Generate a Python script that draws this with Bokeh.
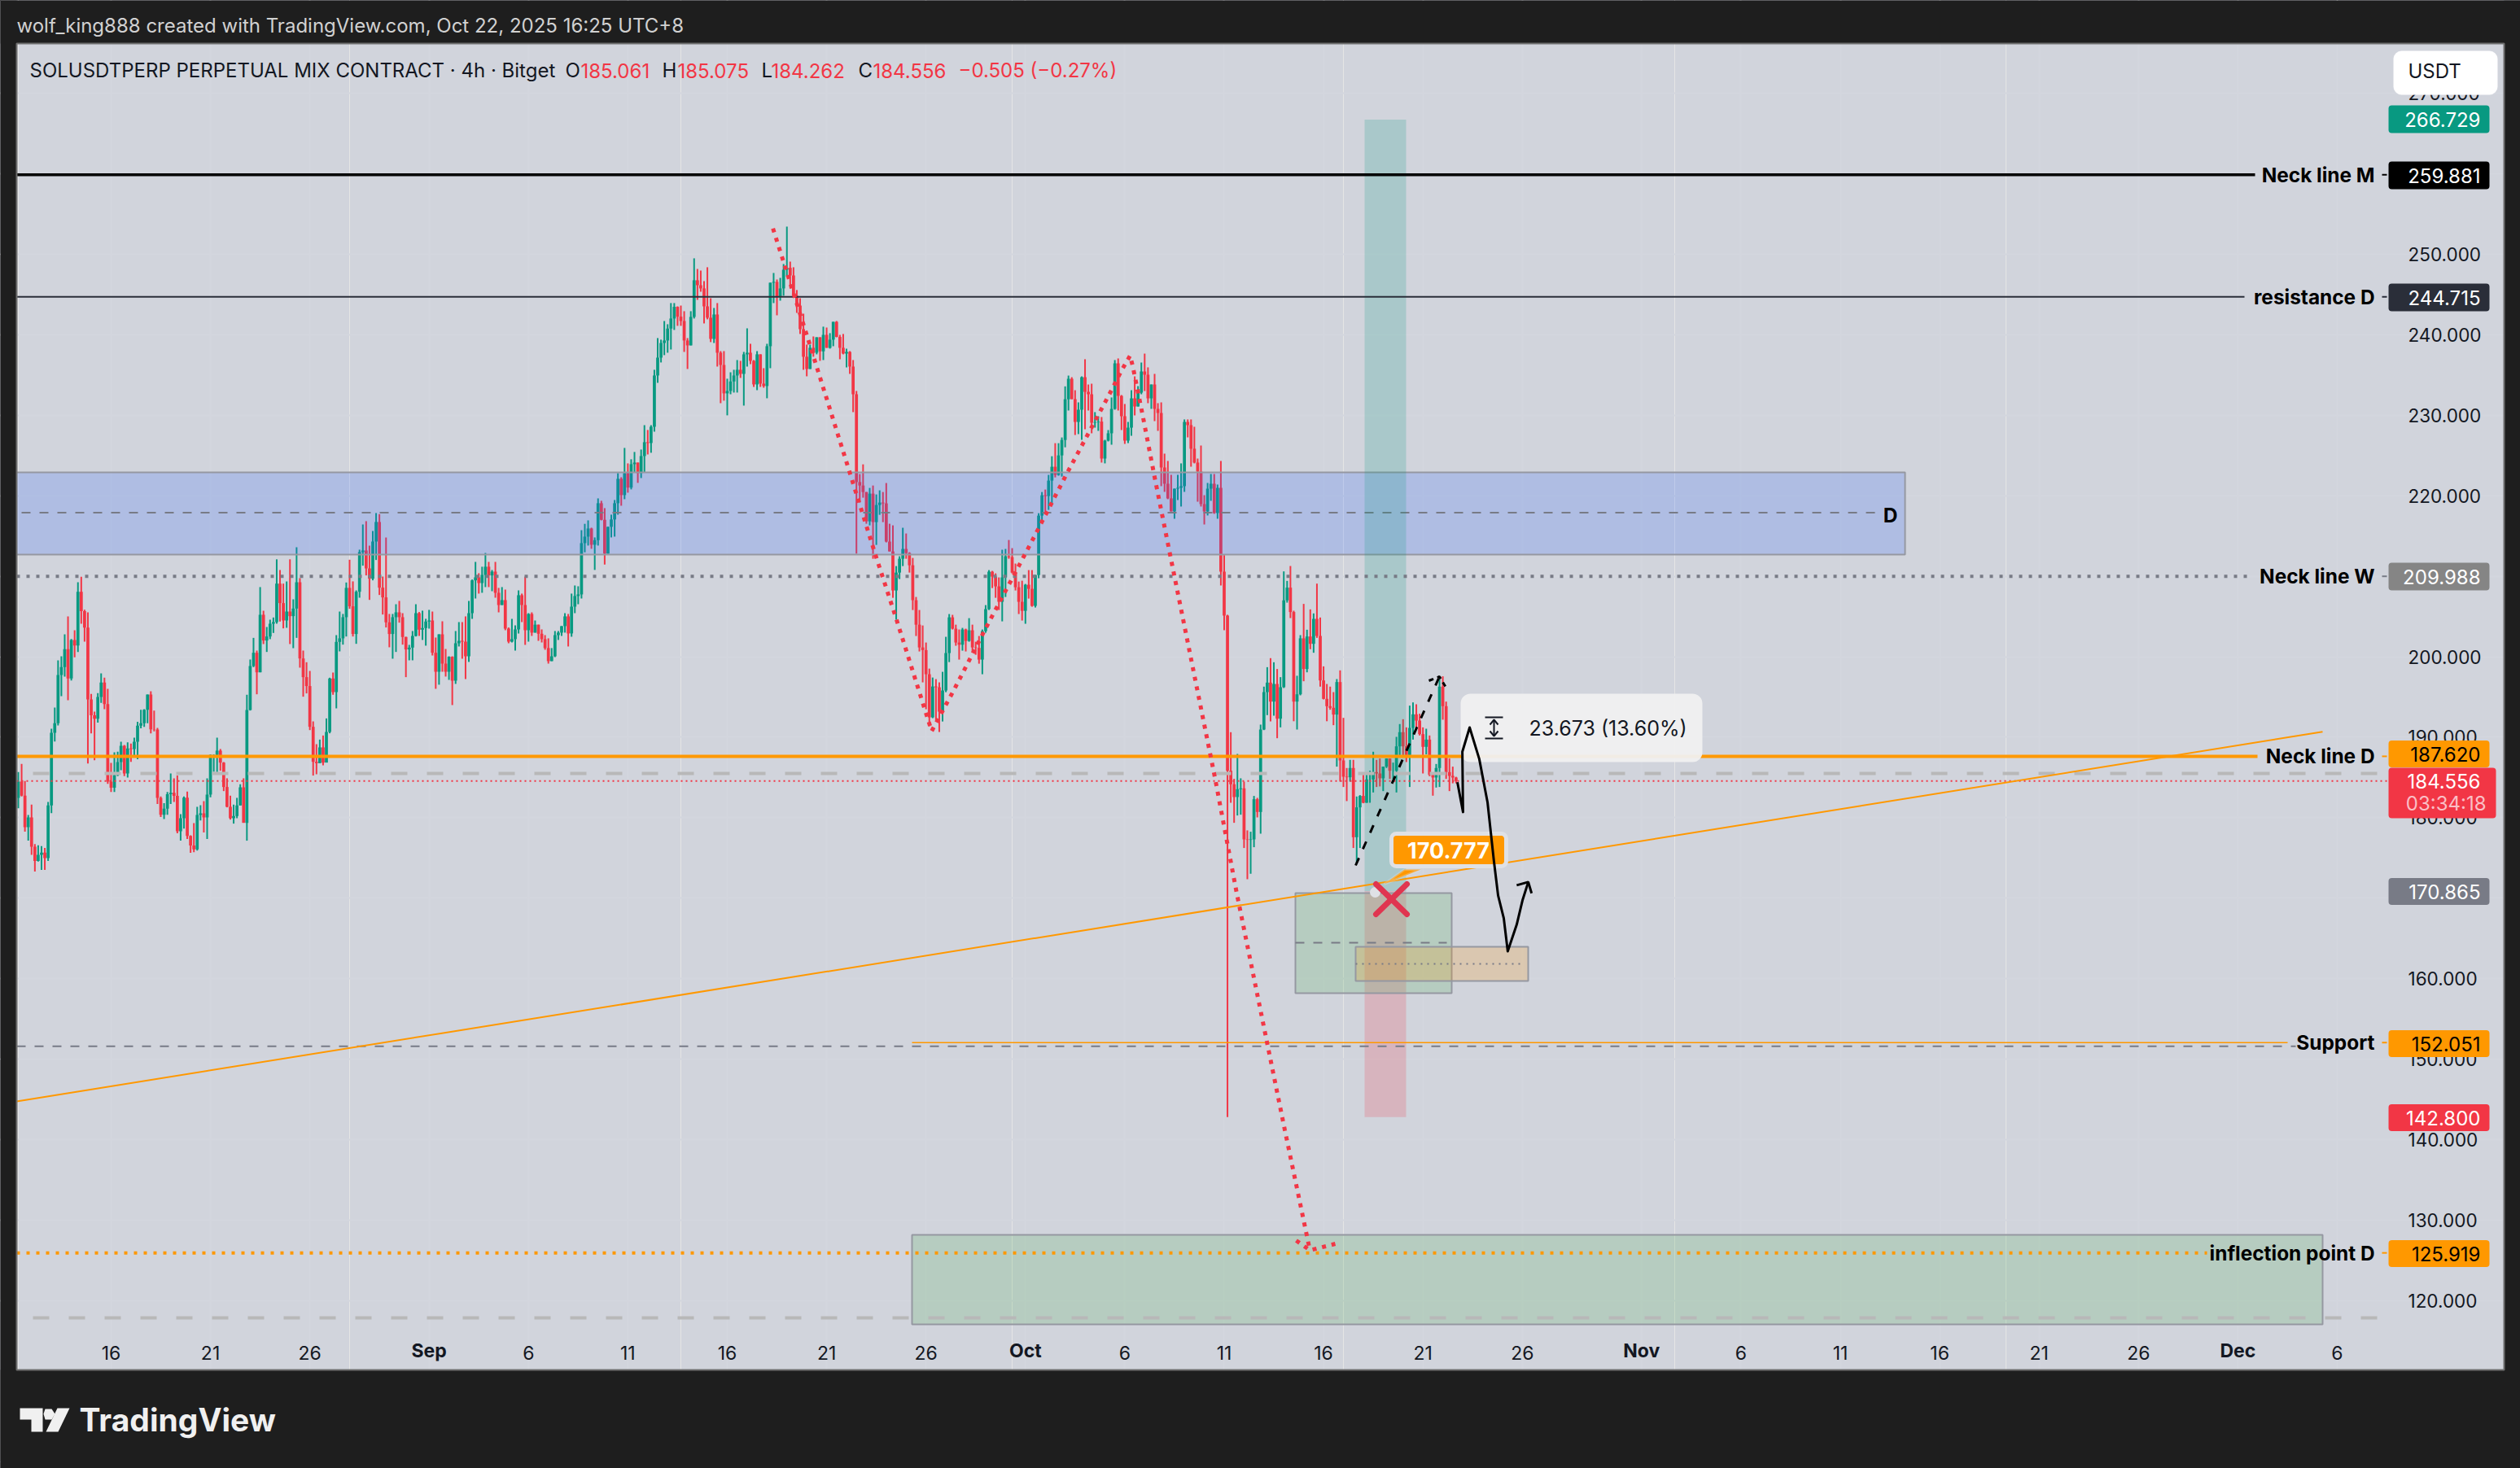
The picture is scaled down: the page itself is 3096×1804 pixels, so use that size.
from bokeh.embed import file_html
from bokeh.models import (BoxAnnotation, FixedTicker, GlobalInlineStyleSheet, Grid, Label, LinearAxis,
                          NumeralTickFormatter, PolyAnnotation, Range1d)
from bokeh.plotting import figure
from bokeh.resources import INLINE

# 4h candles, one value per bar
first_open = 182.46
closes = [
    184.48, 182.73, 178.82, 180.03, 176.39, 174.61, 175.38, 175.65, 174.98, 181.52, 190.55, 191.73, 197.73, 198.70, 200.93, 197.29,
    202.07, 201.40, 208.07, 205.65, 203.62, 194.69, 192.71, 192.30, 195.00, 196.78, 194.12, 184.48, 183.71, 185.29, 186.91, 188.93,
    185.49, 188.59, 188.53, 189.44, 191.43, 191.73, 193.41, 195.30, 190.98, 190.95, 182.46, 180.37, 181.11, 182.90, 183.10, 182.70,
    178.32, 179.93, 182.49, 177.74, 176.53, 176.06, 180.34, 180.54, 180.03, 182.87, 187.79, 187.79, 188.33, 186.84, 183.81, 181.35,
    179.93, 180.20, 181.52, 183.77, 179.36, 193.38, 198.84, 200.49, 198.06, 205.21, 202.01, 202.51, 204.10, 204.30, 209.08, 206.66,
    204.50, 205.61, 205.04, 205.98, 209.25, 199.78, 197.46, 196.35, 191.29, 186.94, 186.77, 188.73, 186.84, 190.65, 197.29, 195.60,
    201.84, 202.28, 204.91, 208.55, 206.26, 202.82, 208.07, 213.00, 213.20, 210.97, 209.69, 214.31, 216.74, 208.58, 207.37, 204.27,
    202.82, 204.91, 205.51, 204.91, 202.45, 200.90, 201.13, 202.58, 205.41, 203.36, 203.56, 204.37, 204.50, 200.49, 198.13, 202.78,
    199.14, 198.13, 199.99, 197.02, 201.67, 201.97, 201.87, 200.05, 205.41, 209.49, 209.86, 209.15, 210.16, 211.18, 210.10, 210.57,
    207.94, 206.42, 207.03, 203.49, 201.87, 202.18, 203.39, 207.64, 206.42, 203.29, 205.31, 202.99, 203.98, 202.85, 202.18, 201.07,
    199.45, 200.05, 202.68, 202.99, 203.80, 205.01, 202.89, 206.22, 207.54, 207.74, 214.11, 214.92, 215.93, 213.91, 214.48, 219.07,
    217.01, 212.80, 216.14, 217.05, 219.07, 222.10, 220.08, 222.81, 221.01, 223.92, 224.12, 222.81, 224.93, 226.65, 226.55, 228.57,
    234.94, 237.16, 238.98, 239.29, 240.77, 242.02, 243.47, 242.25, 241.71, 239.29, 238.68, 242.22, 246.77, 246.16, 245.76, 243.53,
    242.12, 239.49, 242.52, 237.77, 236.25, 232.72, 233.02, 234.20, 234.94, 235.65, 235.14, 237.57, 237.77, 236.76, 233.83, 237.57,
    233.93, 233.63, 238.58, 246.47, 246.57, 244.75, 245.76, 248.08, 248.32, 247.37, 244.85, 243.63, 240.70, 237.27, 235.75, 238.38,
    237.77, 239.69, 237.94, 239.99, 238.38, 239.39, 241.61, 239.73, 238.38, 237.67, 237.87, 236.05, 232.61, 221.70, 221.27, 220.46,
    216.82, 220.26, 216.72, 218.85, 219.15, 219.05, 214.30, 213.08, 208.23, 210.45, 212.17, 213.39, 212.88, 211.36, 207.02, 203.98,
    201.15, 200.82, 197.82, 192.46, 196.30, 196.20, 193.17, 195.80, 200.45, 204.89, 203.48, 201.76, 201.49, 203.38, 201.96, 203.28,
    201.15, 201.09, 199.64, 203.18, 205.91, 210.56, 209.95, 208.74, 206.82, 209.85, 212.48, 212.38, 210.45, 208.63, 206.82, 205.70,
    208.94, 208.43, 206.31, 210.15, 217.53, 220.06, 219.96, 221.88, 223.60, 222.59, 225.01, 226.93, 231.99, 234.53, 232.00, 229.17,
    230.69, 234.73, 232.91, 232.61, 229.07, 229.14, 229.21, 224.62, 226.85, 227.76, 230.79, 236.45, 232.41, 229.88, 226.85, 228.46,
    232.10, 231.09, 232.81, 235.44, 235.04, 232.10, 233.82, 230.79, 230.28, 223.51, 221.49, 219.67, 218.05, 220.88, 220.98, 221.19,
    229.17, 228.77, 225.84, 224.12, 223.01, 218.96, 218.05, 220.88, 221.49, 217.85, 220.98, 210.57, 205.11, 185.83, 184.15, 182.56,
    183.54, 183.64, 177.30, 177.24, 177.30, 182.29, 180.71, 190.95, 195.60, 196.78, 194.42, 196.61, 192.30, 196.21, 207.00, 208.58,
    205.55, 194.42, 195.33, 202.28, 198.47, 202.51, 201.60, 204.70, 202.58, 197.05, 194.76, 193.85, 193.65, 192.81, 196.85, 187.11,
    185.09, 185.02, 186.17, 177.57, 181.28, 182.70, 181.85, 184.75, 184.75, 185.66, 185.49, 184.89, 186.34, 187.35, 185.83, 185.83,
    188.86, 190.62, 188.86, 187.78, 191.15, 192.84, 192.06, 190.38, 188.80, 189.70, 185.32, 184.99, 186.17, 196.28, 193.85, 185.66,
    185.19, 184.99, 184.556,
]
highs = [
    185.66, 186.67, 184.55, 180.34, 181.62, 176.73, 176.56, 176.46, 176.23, 181.96, 191.05, 193.68, 199.55, 200.05, 202.78, 205.01,
    202.21, 203.29, 209.25, 209.93, 205.85, 205.51, 195.37, 193.18, 195.47, 197.93, 197.39, 196.01, 186.81, 188.12, 188.19, 189.44,
    189.03, 189.37, 189.20, 189.94, 191.90, 193.41, 193.48, 195.30, 195.70, 193.31, 191.16, 182.63, 181.79, 183.20, 185.49, 184.89,
    185.25, 180.44, 182.63, 183.24, 177.81, 179.33, 181.35, 181.55, 182.06, 184.89, 187.85, 187.85, 189.94, 188.53, 186.91, 184.89,
    182.73, 181.62, 182.46, 184.15, 184.89, 195.27, 199.65, 202.34, 200.76, 208.65, 205.71, 203.69, 204.60, 204.87, 212.10, 210.77,
    209.08, 209.35, 212.10, 207.13, 213.60, 209.76, 200.76, 199.31, 198.23, 191.96, 189.13, 189.70, 190.21, 192.33, 197.39, 198.03,
    202.68, 205.61, 205.31, 209.22, 212.05, 209.36, 208.24, 213.30, 216.43, 216.84, 213.80, 215.62, 217.85, 217.71, 209.96, 214.81,
    205.31, 205.31, 206.52, 206.93, 205.41, 202.48, 201.47, 203.19, 206.52, 205.55, 205.72, 204.71, 205.82, 205.61, 202.38, 202.78,
    204.40, 200.96, 200.05, 200.05, 203.19, 204.30, 204.30, 205.01, 206.93, 209.59, 211.78, 210.37, 211.18, 212.89, 211.78, 210.77,
    211.78, 208.55, 208.65, 208.34, 203.63, 204.70, 203.90, 208.24, 207.84, 209.96, 205.41, 205.51, 204.50, 203.98, 203.39, 202.68,
    202.28, 201.07, 203.19, 203.19, 203.80, 205.41, 205.31, 207.84, 208.85, 208.75, 215.72, 216.51, 216.94, 216.03, 214.82, 219.67,
    219.37, 218.46, 216.14, 217.65, 219.47, 222.81, 222.30, 225.94, 224.02, 224.53, 225.44, 224.12, 225.74, 228.77, 228.17, 228.77,
    235.65, 239.59, 239.39, 241.71, 241.31, 243.94, 243.94, 243.53, 243.63, 242.93, 239.59, 242.93, 249.50, 248.18, 247.98, 246.67,
    248.39, 244.54, 243.33, 243.94, 237.97, 237.97, 234.54, 235.34, 235.65, 236.86, 236.76, 237.87, 240.80, 238.88, 236.86, 237.97,
    237.57, 235.85, 238.88, 246.47, 247.68, 246.87, 247.07, 248.79, 253.44, 249.09, 248.39, 245.56, 244.54, 242.62, 238.78, 238.78,
    239.79, 239.69, 239.69, 241.01, 240.90, 240.20, 241.61, 241.71, 239.99, 240.10, 238.28, 237.97, 236.86, 233.02, 222.69, 223.90,
    220.46, 220.97, 221.27, 220.16, 220.67, 220.46, 221.58, 216.52, 216.32, 211.26, 212.48, 216.02, 215.31, 212.98, 212.27, 207.42,
    205.80, 203.88, 201.76, 198.52, 197.41, 197.21, 196.81, 198.12, 202.47, 205.30, 205.20, 203.98, 203.38, 203.58, 203.48, 204.79,
    203.98, 201.86, 202.57, 203.38, 206.41, 210.76, 210.66, 210.35, 209.85, 213.29, 213.39, 214.50, 213.49, 211.57, 209.34, 209.44,
    209.04, 210.76, 210.76, 210.15, 217.83, 220.46, 220.77, 222.59, 224.91, 226.53, 226.53, 227.24, 233.59, 234.93, 234.73, 233.11,
    231.60, 234.83, 236.96, 233.82, 233.92, 230.39, 229.88, 229.78, 226.95, 228.16, 232.21, 236.86, 237.06, 232.51, 231.40, 229.17,
    233.11, 234.83, 233.62, 236.55, 237.66, 235.95, 233.82, 235.14, 231.50, 231.60, 225.23, 224.32, 222.60, 220.88, 222.60, 224.02,
    229.48, 229.48, 229.48, 228.57, 224.62, 226.24, 220.07, 221.59, 222.70, 222.70, 221.39, 224.32, 212.62, 205.20, 190.62, 184.82,
    187.92, 184.89, 184.48, 178.42, 178.25, 182.70, 182.46, 191.56, 196.28, 198.70, 199.82, 199.31, 198.47, 197.46, 210.60, 209.42,
    211.27, 205.71, 197.63, 202.68, 206.56, 203.35, 205.88, 205.38, 209.08, 204.87, 198.80, 196.61, 196.28, 195.60, 197.22, 198.30,
    192.40, 186.17, 187.18, 187.18, 182.63, 182.80, 185.32, 185.32, 185.83, 188.19, 187.18, 187.35, 186.34, 187.35, 187.35, 186.84,
    190.04, 191.63, 192.23, 191.22, 193.92, 194.32, 194.09, 192.91, 191.22, 191.05, 190.21, 185.32, 186.67, 197.22, 197.56, 194.42,
    187.35, 186.34, 185.075,
]
lows = [
    181.18, 182.63, 178.25, 177.14, 175.38, 173.30, 174.54, 173.50, 173.50, 174.61, 180.57, 189.47, 191.46, 195.10, 197.52, 194.59,
    197.05, 199.92, 200.59, 204.10, 201.87, 186.74, 190.48, 187.14, 191.80, 194.26, 193.48, 184.21, 183.20, 183.20, 185.16, 185.90,
    185.16, 184.99, 186.94, 187.68, 187.25, 191.09, 191.29, 191.73, 190.48, 190.72, 181.69, 180.07, 179.83, 180.37, 181.69, 181.96,
    178.05, 177.14, 178.65, 177.34, 175.62, 175.72, 175.92, 179.66, 178.15, 177.34, 182.53, 185.70, 185.66, 185.83, 183.30, 181.28,
    179.76, 179.26, 179.93, 181.52, 179.36, 177.14, 193.31, 198.70, 195.33, 198.06, 201.57, 200.59, 202.18, 202.95, 204.10, 204.37,
    203.52, 203.59, 201.57, 201.06, 202.34, 198.64, 195.03, 195.44, 190.88, 185.23, 185.39, 186.81, 186.50, 187.04, 190.48, 195.27,
    193.58, 200.66, 201.50, 202.51, 205.95, 202.51, 201.60, 207.33, 211.31, 210.10, 207.06, 209.49, 212.02, 207.67, 205.24, 203.63,
    201.17, 199.75, 200.59, 204.23, 201.50, 197.46, 199.55, 199.55, 202.51, 202.58, 202.08, 201.37, 203.49, 200.15, 196.01, 196.52,
    198.13, 197.53, 197.12, 193.99, 196.62, 201.27, 199.75, 197.22, 199.35, 204.70, 207.23, 207.84, 207.94, 208.65, 208.65, 208.14,
    207.33, 205.51, 206.42, 203.29, 201.67, 201.77, 200.76, 202.88, 204.30, 201.47, 201.87, 202.58, 202.99, 201.97, 201.77, 200.86,
    199.14, 199.45, 199.95, 202.08, 202.58, 202.99, 201.27, 202.48, 205.41, 206.52, 207.23, 212.97, 213.81, 213.41, 210.78, 213.81,
    216.94, 211.45, 212.80, 214.82, 214.92, 217.65, 218.76, 219.57, 220.38, 220.79, 222.91, 221.60, 222.20, 222.91, 225.13, 225.34,
    227.96, 234.03, 236.56, 237.47, 237.77, 238.17, 240.60, 241.11, 241.11, 237.87, 235.75, 238.68, 242.02, 244.34, 245.35, 241.41,
    241.92, 239.09, 238.98, 236.05, 231.50, 231.81, 229.99, 232.61, 232.82, 232.82, 234.64, 231.20, 236.05, 236.35, 233.52, 233.12,
    233.52, 233.42, 232.11, 235.85, 243.94, 242.42, 244.24, 244.85, 247.27, 245.76, 244.85, 242.72, 240.10, 235.65, 234.84, 235.75,
    237.27, 237.57, 236.76, 236.86, 238.38, 238.28, 238.58, 239.69, 236.96, 237.57, 235.95, 235.14, 230.39, 212.80, 219.15, 219.76,
    216.52, 216.32, 212.17, 213.89, 217.63, 216.72, 214.20, 213.08, 207.32, 204.59, 209.65, 211.26, 212.17, 210.45, 205.80, 202.57,
    200.65, 196.81, 193.47, 191.35, 192.36, 192.05, 190.64, 191.95, 195.59, 199.33, 203.38, 201.36, 199.64, 200.75, 200.65, 201.86,
    200.55, 200.24, 199.13, 197.82, 202.97, 205.80, 208.53, 207.32, 205.80, 204.39, 207.42, 212.17, 210.35, 208.23, 205.30, 204.49,
    204.09, 207.22, 206.21, 206.11, 209.75, 216.92, 217.83, 218.24, 218.85, 222.28, 222.49, 222.38, 226.02, 230.59, 232.00, 227.55,
    227.66, 226.95, 228.26, 230.59, 227.76, 228.46, 228.06, 224.12, 224.02, 226.75, 226.34, 230.69, 230.59, 228.16, 226.44, 226.54,
    227.45, 229.98, 231.09, 232.61, 233.01, 231.50, 230.79, 229.27, 228.06, 221.19, 220.48, 219.57, 218.05, 217.14, 219.47, 218.66,
    220.48, 227.25, 223.61, 224.02, 219.26, 218.66, 216.43, 217.55, 219.37, 217.75, 217.14, 208.85, 203.29, 142.80, 181.85, 179.36,
    180.27, 180.37, 176.23, 172.35, 173.03, 176.33, 180.03, 178.01, 190.88, 192.74, 191.96, 192.67, 189.87, 191.22, 196.11, 206.72,
    204.80, 191.98, 190.95, 195.20, 196.95, 198.06, 200.93, 200.49, 202.34, 196.28, 194.69, 191.98, 193.41, 191.49, 186.34, 184.48,
    183.81, 182.06, 184.48, 176.23, 174.37, 176.23, 181.79, 181.85, 181.85, 183.13, 183.81, 183.88, 183.30, 186.17, 184.82, 184.82,
    183.13, 187.68, 187.68, 186.91, 183.81, 189.70, 190.88, 190.21, 185.49, 187.86, 185.15, 182.73, 183.74, 183.81, 192.17, 184.82,
    183.30, 184.27, 184.262,
]
opens = [first_open] + closes[:-1]

# price scale and time scale
price_ticks = [120, 130, 140, 150, 160, 170, 180, 190, 200, 210, 220, 230, 240, 250, 260, 270]
day_labels = ["16", "21", "26", "6", "11", "16", "21", "26", "6", "11", "16", "21", "26", "6", "11", "16", "21", "26", "6"]
day_offsets = [0, 5, 10, 21, 26, 31, 36, 41, 51, 56, 61, 66, 71, 82, 87, 92, 97, 102, 112]
month_labels = ["Sep", "Oct", "Nov", "Dec"]
month_offsets = [16, 46, 77, 107]

# labelled horizontal levels
level_prices = [259.881, 244.715, 209.988, 187.620, 125.919]
level_colors = ["#000000", "#2a2e39", "#787b86", "#ff9800", "#ff9800"]
level_widths = [3.5, 2, 4, 4, 4]
level_dashes = ["solid", "solid", "4 8", "solid", "4 8"]
level_ends = [2770, 2757, 2760, 2773, 2711]
level_names = ["Neck line M", "resistance D", "Neck line W", "Neck line D", "inflection point D"]

# price tags on the right hand scale
tag_texts = ["266.729", "259.881", "244.715", "209.988", "187.620", "170.865", "152.051", "142.800", "125.919"]
tag_centers = [146, 215, 365, 708, 926, 1095, 1282, 1373, 1540]
tag_fills = ["#089981", "#000000", "#2a2e39", "#858585", "#ff9800", "#787b86", "#ff9800", "#f23645", "#ff9800"]
tag_inks = ["#ffffff", "#ffffff", "#ffffff", "#ffffff", "#000000", "#ffffff", "#000000", "#ffffff", "#000000"]
tag_heights = [34, 34, 34, 34, 33, 33, 33, 33, 33]

# hand drawn paths, bar number and price
zigzag_bars = [227.8, 237.6, 249.9, 258.7, 265.1, 275.7, 282.6, 292.1, 305.9, 316.7, 329.2, 333.2, 335.6,
               336.4, 339.3, 343.2, 348.4, 361.2, 367.8, 382.3, 389.9]
zigzag_prices = [253.2, 240.5, 224.3, 212.7, 204.6, 190.75, 196.0, 203.6, 214.3, 222.9, 232.5, 235.7, 237.4,
                 236.1, 230.2, 221.9, 211.2, 185.0, 170.6, 141.2, 126.2]
brush_bars = [434.4, 436.1, 435.9, 438.1, 441.0, 443.5, 445.4, 446.7, 448.4, 449.6, 452.3, 454.1, 455.8]
brush_prices = [184.4, 180.7, 188.2, 191.2, 187.3, 181.9, 174.7, 170.3, 167.5, 163.4, 166.7, 169.8, 172.0]
brush_head_bars = [452.3, 455.8, 456.8]
brush_head_prices = [171.6, 172.0, 170.6]

BG = "#1e1e1e"
PANE = "#d1d4dc"
GRID = "#d3d6de"
UP = "#089981"
DOWN = "#f23645"
ORANGE = "#ff9800"
GRAY = "#787b86"
BORDER = "#9598a1"
INK = "#131722"
FONT = "Inter"
LEFT, RIGHT, TOP, BOTTOM = 20, 3076, 53, 1683


def px(x):
    # window pixel to bar number, for drawings that sit on the canvas
    return (x - 22) / 4.07


def py(y):
    # window pixel to price
    return 200 - (y - 806.5) / 9.89


# the frame fills the whole window, the dark surround is painted on top of the chart further down
p = figure(x_range=Range1d(px(0), px(3096)), y_range=Range1d(py(1804), py(0)),
           width=3096, height=1804, frame_width=3096, frame_height=1804, min_border=0,
           x_axis_location=None, y_axis_location=None,
           toolbar_location=None, output_backend="svg",
           background_fill_color=PANE, border_fill_color=BG, outline_line_color=None)
p.stylesheets = [GlobalInlineStyleSheet(css="html, body { background: #1e1e1e; overflow: hidden; }")]

day_ticks = [28 + 6 * d for d in day_offsets]
month_ticks = [28 + 6 * d for d in month_offsets]

price_axis = LinearAxis(ticker=FixedTicker(ticks=price_ticks), formatter=NumeralTickFormatter(format="0.000"),
                        major_label_standoff=-144, major_label_text_font=FONT, major_label_text_font_size="22.5px",
                        major_label_text_color=INK, axis_line_color=None,
                        major_tick_line_color=None, minor_tick_line_color=None)
p.add_layout(price_axis, "right")

day_axis = LinearAxis(ticker=FixedTicker(ticks=day_ticks),
                      major_label_overrides=dict(zip(day_ticks, day_labels)),
                      major_label_standoff=-157, major_label_text_font=FONT, major_label_text_font_size="23px",
                      major_label_text_color=INK, axis_line_color=None,
                      major_tick_line_color=None, minor_tick_line_color=None)
p.add_layout(day_axis, "below")

# the bold month names need an axis of their own, pulled down from the top edge
month_axis = LinearAxis(ticker=FixedTicker(ticks=month_ticks),
                        major_label_overrides=dict(zip(month_ticks, month_labels)),
                        major_label_standoff=-1679, major_label_text_font=FONT, major_label_text_font_size="23px",
                        major_label_text_font_style="bold",
                        major_label_text_color=INK, axis_line_color=None,
                        major_tick_line_color=None, minor_tick_line_color=None)
p.add_layout(month_axis, "above")

p.add_layout(Grid(dimension=0, ticker=FixedTicker(ticks=day_ticks + month_ticks), grid_line_color=GRID, grid_line_width=2))
p.add_layout(Grid(dimension=1, ticker=FixedTicker(ticks=price_ticks), grid_line_color=GRID, grid_line_width=2))

# candles
bars = list(range(len(closes)))
colors = [UP if c >= o else DOWN for o, c in zip(opens, closes)]
p.segment(bars, highs, bars, lows, line_color=colors, line_width=2)
p.vbar(bars, 0.92, opens, closes, fill_color=colors, line_color=None)

# blue D zone
p.quad(left=px(10), right=px(2340), top=222.9, bottom=212.7, fill_color="#2962ff", fill_alpha=0.2,
       line_color=BORDER, line_width=2)
p.line([px(26), px(2304)], [217.9, 217.9], line_color=GRAY, line_width=2, line_dash="11 11")

# long position tool
p.quad(left=px(1676), right=px(1727), top=266.729, bottom=170.865, fill_color=UP, fill_alpha=0.2, line_color=None)
p.quad(left=px(1676), right=px(1727), top=170.865, bottom=142.8, fill_color=DOWN, fill_alpha=0.2, line_color=None)

# green boxes and the small orange one
p.quad(left=px(1591), right=px(1783), top=170.63, bottom=158.19, fill_color="#4caf50", fill_alpha=0.2,
       line_color=BORDER, line_width=2)
p.line([px(1591), px(1777)], [164.46, 164.46], line_color=GRAY, line_width=2, line_dash="11 11")
p.quad(left=px(1665), right=px(1877), top=163.95, bottom=159.7, fill_color=ORANGE, fill_alpha=0.2,
       line_color=BORDER, line_width=2)
p.line([px(1665), px(1872)], [161.83, 161.83], line_color=GRAY, line_width=2, line_dash="2 6")
p.quad(left=px(1120), right=px(2853), top=128.16, bottom=117.04, fill_color="#4caf50", fill_alpha=0.2,
       line_color=BORDER, line_width=2)

# plain levels
for price, color, width, dash, end in zip(level_prices, level_colors, level_widths, level_dashes, level_ends):
    p.line([px(LEFT), px(end)], [price, price], line_color=color, line_width=width, line_dash=dash)

p.line([px(1120), px(2810)], [152.051, 152.051], line_color=ORANGE, line_width=1.5)
p.line([px(LEFT), px(2820)], [151.6, 151.6], line_color=GRAY, line_width=2, line_dash="11 11")
p.line([px(40), px(2920)], [185.5, 185.5], line_color="#b8b8b8", line_width=4, line_dash="20 24")
p.line([px(40), px(2920)], [117.85, 117.85], line_color="#b8b8b8", line_width=4, line_dash="20 24")
p.line([px(LEFT), px(2934)], [184.556, 184.556], line_color=DOWN, line_width=2, line_dash="2 4")

# rising orange trend line
p.line([px(LEFT), px(2853)], [144.74, 190.67], line_color=ORANGE, line_width=2)

# stubs between the level names and the tags
for price, color in zip(level_prices + [152.051], level_colors + [ORANGE]):
    p.line([px(2926), px(2932)], [price, price], line_color=color, line_width=2)

# dotted red path with its head
p.line(zigzag_bars, zigzag_prices, line_color=DOWN, line_width=5, line_dash="5 7")
p.line([px(1592), px(1609), px(1640)], [py(1524), py(1536), py(1528)], line_color=DOWN, line_width=5, line_dash="5 7")

# dashed black arrow
p.line([px(1665), px(1767)], [py(1063), py(833)], line_color="#000000", line_width=3, line_dash="10 12")
p.line([px(1755), px(1768), px(1777)], [py(836), py(831), py(846)], line_color="#000000", line_width=3, line_dash="6 5")

# dark surround of the pane, painted over whatever runs past its edges
p.quad(left=[px(0), px(0), px(0), px(RIGHT)], right=[px(LEFT), px(3096), px(3096), px(3096)],
       top=[py(0), py(0), py(BOTTOM), py(0)], bottom=[py(1804), py(TOP), py(1804), py(1804)],
       fill_color=BG, line_color=None)
p.quad(left=px(LEFT), right=px(RIGHT), top=py(TOP), bottom=py(BOTTOM), fill_color=None, line_color="#6e6e6e", line_width=2)

# measure box
p.add_layout(BoxAnnotation(left=px(1794), right=px(2091), top=py(852), bottom=py(936), fill_color="#f0f0f0",
                           fill_alpha=0.95, line_color=None, border_radius=12))
p.segment([px(1824), px(1824), px(1835)], [py(881), py(907), py(884)], [px(1846), px(1846), px(1835)],
          [py(881), py(907), py(904)], line_color=INK, line_width=2, level="overlay")
p.line([px(1830), px(1835), px(1840)], [py(890), py(884), py(890)], line_color=INK, line_width=2, level="overlay")
p.line([px(1830), px(1835), px(1840)], [py(898), py(904), py(898)], line_color=INK, line_width=2, level="overlay")
p.add_layout(Label(x=px(1878), y=py(894), text="23.673 (13.60%)", text_font=FONT, text_font_size="25px",
                   text_color=INK, text_baseline="middle"))

# callout
p.add_layout(PolyAnnotation(xs=[px(1700), px(1725), px(1745)], ys=[py(1086), py(1068), py(1068)],
                            fill_color=ORANGE, fill_alpha=1, line_color="#dfe1e6", line_width=3))
p.add_layout(BoxAnnotation(left=px(1709), right=px(1850), top=py(1024), bottom=py(1064), fill_color=ORANGE,
                           fill_alpha=1, line_color="#dfe1e6", line_width=5, line_alpha=1, border_radius=6))
p.add_layout(Label(x=px(1779), y=py(1044), text="170.777", text_font=FONT, text_font_size="27px", text_font_style="bold",
                   text_color="#ffffff", text_align="center", text_baseline="middle"))
p.scatter([px(1689)], [py(1096)], marker="circle", size=13, fill_color="#dfe1e6", line_color=None, level="overlay")
p.segment([px(1690), px(1690)], [py(1086), py(1123)], [px(1728), px(1728)], [py(1123), py(1086)],
          line_color="#e03550", line_width=7, line_cap="round", level="overlay")

# freehand brush
p.line(brush_bars, brush_prices, line_color="#000000", line_width=3, line_join="round", level="overlay")
p.line(brush_head_bars, brush_head_prices, line_color="#000000", line_width=3, level="overlay")

# names of the levels, right aligned up against the tags
name_prices = level_prices + [152.051]
for name, price in zip(level_names + ["Support"], name_prices):
    p.add_layout(Label(x=px(2917), y=price, text=name, text_font=FONT, text_font_size="24.4px", text_font_style="bold",
                       text_color="#000000", text_align="right", text_baseline="middle"))
p.add_layout(Label(x=px(2322), y=py(632), text="D", text_font=FONT, text_font_size="24.4px", text_font_style="bold",
                   text_color="#000000", text_align="center", text_baseline="middle"))

# tags
for text, center, fill, ink, height in zip(tag_texts, tag_centers, tag_fills, tag_inks, tag_heights):
    p.add_layout(BoxAnnotation(left=px(2934), right=px(3058), top=py(center - height / 2), bottom=py(center + height / 2),
                               fill_color=fill, fill_alpha=1, line_color=None, border_radius=4))
    p.add_layout(Label(x=px(3047), y=py(center), text=text, text_font=FONT, text_font_size="24px", text_color=ink,
                       text_align="right", text_baseline="middle"))

p.add_layout(BoxAnnotation(left=px(2934), right=px(3066), top=py(943), bottom=py(1005), fill_color=DOWN, fill_alpha=1,
                           line_color=None, border_radius=4))
p.add_layout(Label(x=px(3047), y=py(959), text="184.556", text_font=FONT, text_font_size="24px", text_color="#ffffff",
                   text_align="right", text_baseline="middle"))
p.add_layout(Label(x=px(3054), y=py(987), text="03:34:18", text_font=FONT, text_font_size="24px", text_color="#fabfc5",
                   text_align="right", text_baseline="middle"))

# currency button
p.add_layout(BoxAnnotation(left=px(2940), right=px(3068), top=py(62), bottom=py(116), fill_color="#ffffff", fill_alpha=1,
                           line_color="#e8e9ee", border_radius=10))
p.add_layout(Label(x=px(2958), y=py(87), text="USDT", text_font=FONT, text_font_size="24px", text_color=INK,
                   text_baseline="middle"))

# header of the chart
header_text = ["SOLUSDTPERP PERPETUAL MIX CONTRACT \u00b7 4h \u00b7 Bitget", "O", "185.061", "H", "185.075", "L", "184.262",
               "C", "184.556", "\u22120.505 (\u22120.27%)"]
header_x = [36, 694, 713, 813, 832, 935, 947, 1054, 1072, 1177]
header_ink = [INK, INK, DOWN, INK, DOWN, INK, DOWN, INK, DOWN, DOWN]
for text, x, ink in zip(header_text, header_x, header_ink):
    p.add_layout(Label(x=px(x), y=py(86), text=text, text_font=FONT, text_font_size="24px", text_color=ink,
                       text_baseline="middle"))

# strip above and logo below the panel
p.add_layout(Label(x=px(20), y=py(31), text="wolf_king888 created with TradingView.com, Oct 22, 2025 16:25 UTC+8",
                   text_font=FONT, text_font_size="24px", text_color="#d1d1d1", text_baseline="middle"))
p.add_layout(PolyAnnotation(xs=[px(24), px(52), px(52), px(38), px(38), px(24)],
                            ys=[py(1730), py(1730), py(1759), py(1759), py(1744), py(1744)],
                            fill_color="#f0f0f0", fill_alpha=1, line_color=None))
p.add_layout(PolyAnnotation(xs=[px(70), px(85), px(71), px(56)], ys=[py(1730), py(1730), py(1759), py(1759)],
                            fill_color="#f0f0f0", fill_alpha=1, line_color=None))
p.add_layout(PolyAnnotation(xs=[px(55), px(63), px(67), px(63), px(55), px(53)],
                            ys=[py(1731), py(1731), py(1737), py(1744), py(1744), py(1737)],
                            fill_color="#f0f0f0", fill_alpha=1, line_color=None))
p.add_layout(Label(x=px(97), y=py(1744), text="TradingView", text_font=FONT, text_font_size="39px", text_font_style="bold",
                   text_color="#f0f0f0", text_baseline="middle"))

open("out.html", "w").write(file_html(p, INLINE))
